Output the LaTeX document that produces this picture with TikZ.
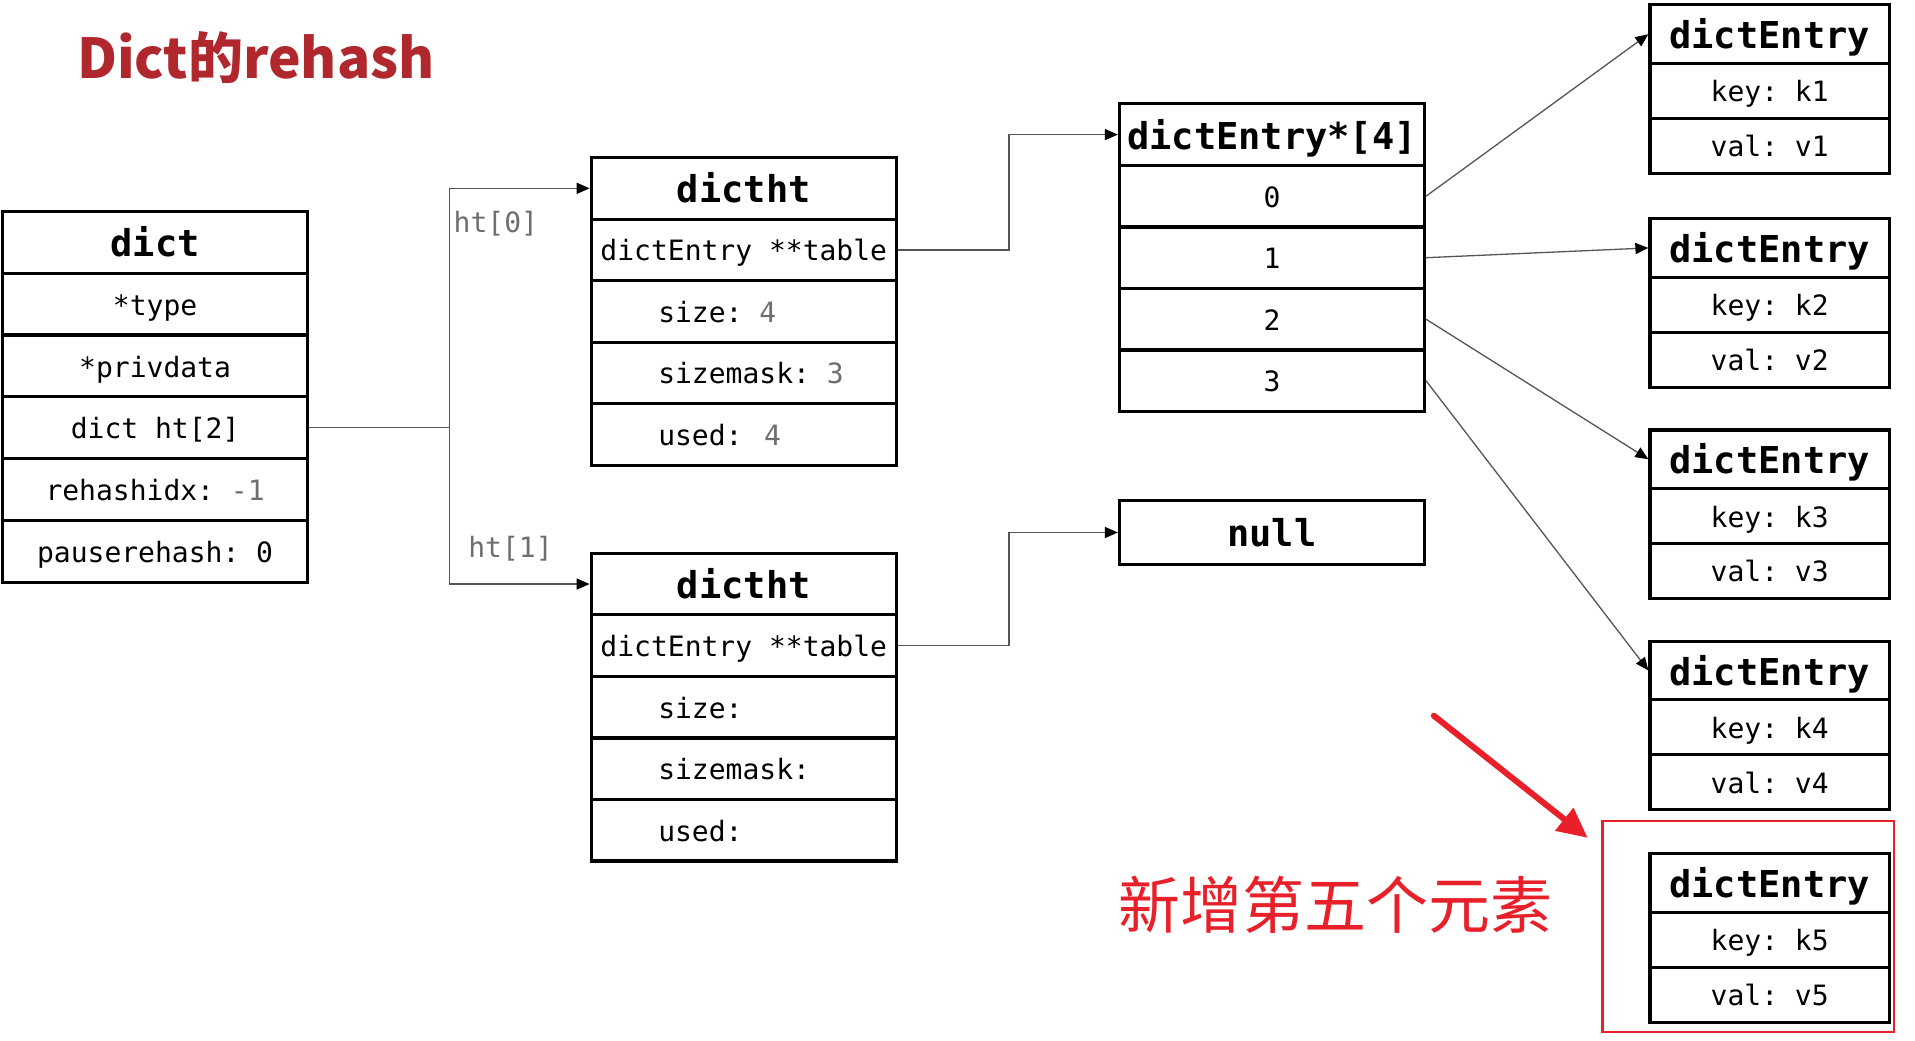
\documentclass[tikz,border=0pt]{standalone}
\usepackage{fontspec}
\setmonofont{DejaVu Sans Mono}
\newfontfamily\cjk{Noto Sans CJK SC}
\usetikzlibrary{arrows.meta}
\definecolor{titlered}{RGB}{176,40,45}
\definecolor{annred}{RGB}{232,32,42}
\definecolor{conngray}{RGB}{85,85,85}
\definecolor{valgray}{RGB}{110,110,110}
\newcommand{\lrow}[1]{\makebox[305pt][l]{\hspace*{67pt}#1}}
\newcommand{\gv}[1]{\textcolor{valgray}{#1}}
\begin{document}
\begin{tikzpicture}[x=1.2213pt,y=-1.2213pt,
  cell/.style={draw, line width=3.2pt, inner sep=0pt, fill=white, text height=22pt, text depth=0pt, font=\fontsize{28}{30}\selectfont\ttfamily},
  head/.style={cell, text height=29pt, text depth=0pt, font=\fontsize{37}{40}\selectfont\ttfamily\bfseries},
  wide/.style={minimum width=305pt},
  dictrow/.style={minimum height=61.9pt},
  htrow/.style={minimum height=61.55pt},
  entw/.style={minimum width=239.4pt},
  conn/.style={draw=conngray, line width=1.3pt, -{Triangle[length=13pt,width=11pt,color=black]}},
  lbl/.style={font=\fontsize{28}{30}\selectfont\ttfamily, text=valgray, inner sep=0pt}
]
\useasboundingbox[fill=white] (0,0) rectangle (1568,852);

% title
\node[text=titlered, font=\cjk\bfseries\fontsize{55}{60}\selectfont, anchor=base west, inner sep=0pt] (title) at (63,64) {Dict的rehash};

% dict
\node[head, wide, dictrow] (dhead) at (127,198.3) {dict};
\node[cell, wide, dictrow] (dtype) at (127,249) {*type};
\node[cell, wide, dictrow] (dpriv) at (127,299.7) {*privdata};
\node[cell, wide, dictrow] (dht) at (127,350.3) {dict ht[2]};
\node[cell, wide, dictrow] (drh) at (127,401) {rehashidx: \gv{-1}};
\node[cell, wide, dictrow] (dpr) at (127,451.7) {pauserehash: 0};

% dictht 0
\node[head, wide, htrow] (ahead) at (609,154.2) {dictht};
\node[cell, wide, htrow] (atab) at (609,204.6) {dictEntry **table};
\node[cell, wide, htrow] (asize) at (609,255) {\lrow{size: \gv{4}}};
\node[cell, wide, htrow] (amask) at (609,305.4) {\lrow{sizemask: \gv{3}}};
\node[cell, wide, htrow] (aused) at (609,355.8) {\lrow{used: \,\gv{4}}};

% dictht 1
\node[head, wide, htrow] (bhead) at (609,478.2) {dictht};
\node[cell, wide, htrow] (btab) at (609,528.6) {dictEntry **table};
\node[cell, wide, htrow] (bsize) at (609,579) {\lrow{size:}};
\node[cell, wide, htrow] (bmask) at (609,629.4) {\lrow{sizemask:}};
\node[cell, wide, htrow] (bused) at (609,679.8) {\lrow{used:}};

% array
\node[head, wide, htrow] (arrhead) at (1041.5,110.2) {dictEntry*[4]};
\node[cell, wide, htrow] (r0) at (1041.5,160.6) {0};
\node[cell, wide, htrow] (r1) at (1041.5,211) {1};
\node[cell, wide, htrow] (r2) at (1041.5,261.4) {2};
\node[cell, wide, htrow] (r3) at (1041.5,311.8) {3};

% null
\node[head, wide, minimum height=63.5pt] (null) at (1041.5,436) {null};

% new element frame
\node[draw=annred, line width=2.4pt, minimum width=291.9pt, minimum height=211.3pt, inner sep=0pt] (newbox) at (1431.5,758.5) {};

% dict entries
\foreach \i/\t in {1/4,2/179,3/352,4/525,5/699}{
  \node[head, entw, minimum height=58.6pt] (e\i h) at (1449,\t+24) {dictEntry};
  \node[cell, entw, minimum height=55pt] (e\i k) at (1449,\t+70.5) {key: k\i};
  \node[cell, entw, minimum height=55pt] (e\i v) at (1449,\t+115.5) {val: v\i};
}

% connectors dict -> dictht
\draw[draw=conngray, line width=1.3pt] (dht.east) -- ++(115,0) coordinate (split);
\draw[conn] (split) |- (ahead.west);
\draw[conn] (split) |- (bhead.west);
\node[lbl] (l0) at (406,183) {ht[0]};
\node[lbl] (l1) at (418,449) {ht[1]};

% table pointers
\draw[conn] (atab.east) -- ++(91,0) |- (arrhead.west);
\draw[conn] (btab.east) -- ++(91,0) |- (null.west);

% buckets to entries
\draw[conn] (r0.east) -- (e1h.west);
\draw[conn] (r1.east) -- (e2h.west);
\draw[conn] (r2.east) -- (e3h.west);
\draw[conn] (r3.east) -- (e4h.west);

% annotation
\coordinate (ra) at (1174,586);
\coordinate (rb) at (1300,686);
\draw[annred, line width=6pt, line cap=round, -{Triangle[length=30pt,width=28pt]}] (ra) -- (rb);
\node[text=annred, font=\cjk\fontsize{62}{62}\selectfont, inner sep=0pt] (note) at (1093.5,741) {新增第五个元素};
\end{tikzpicture}
\end{document}
